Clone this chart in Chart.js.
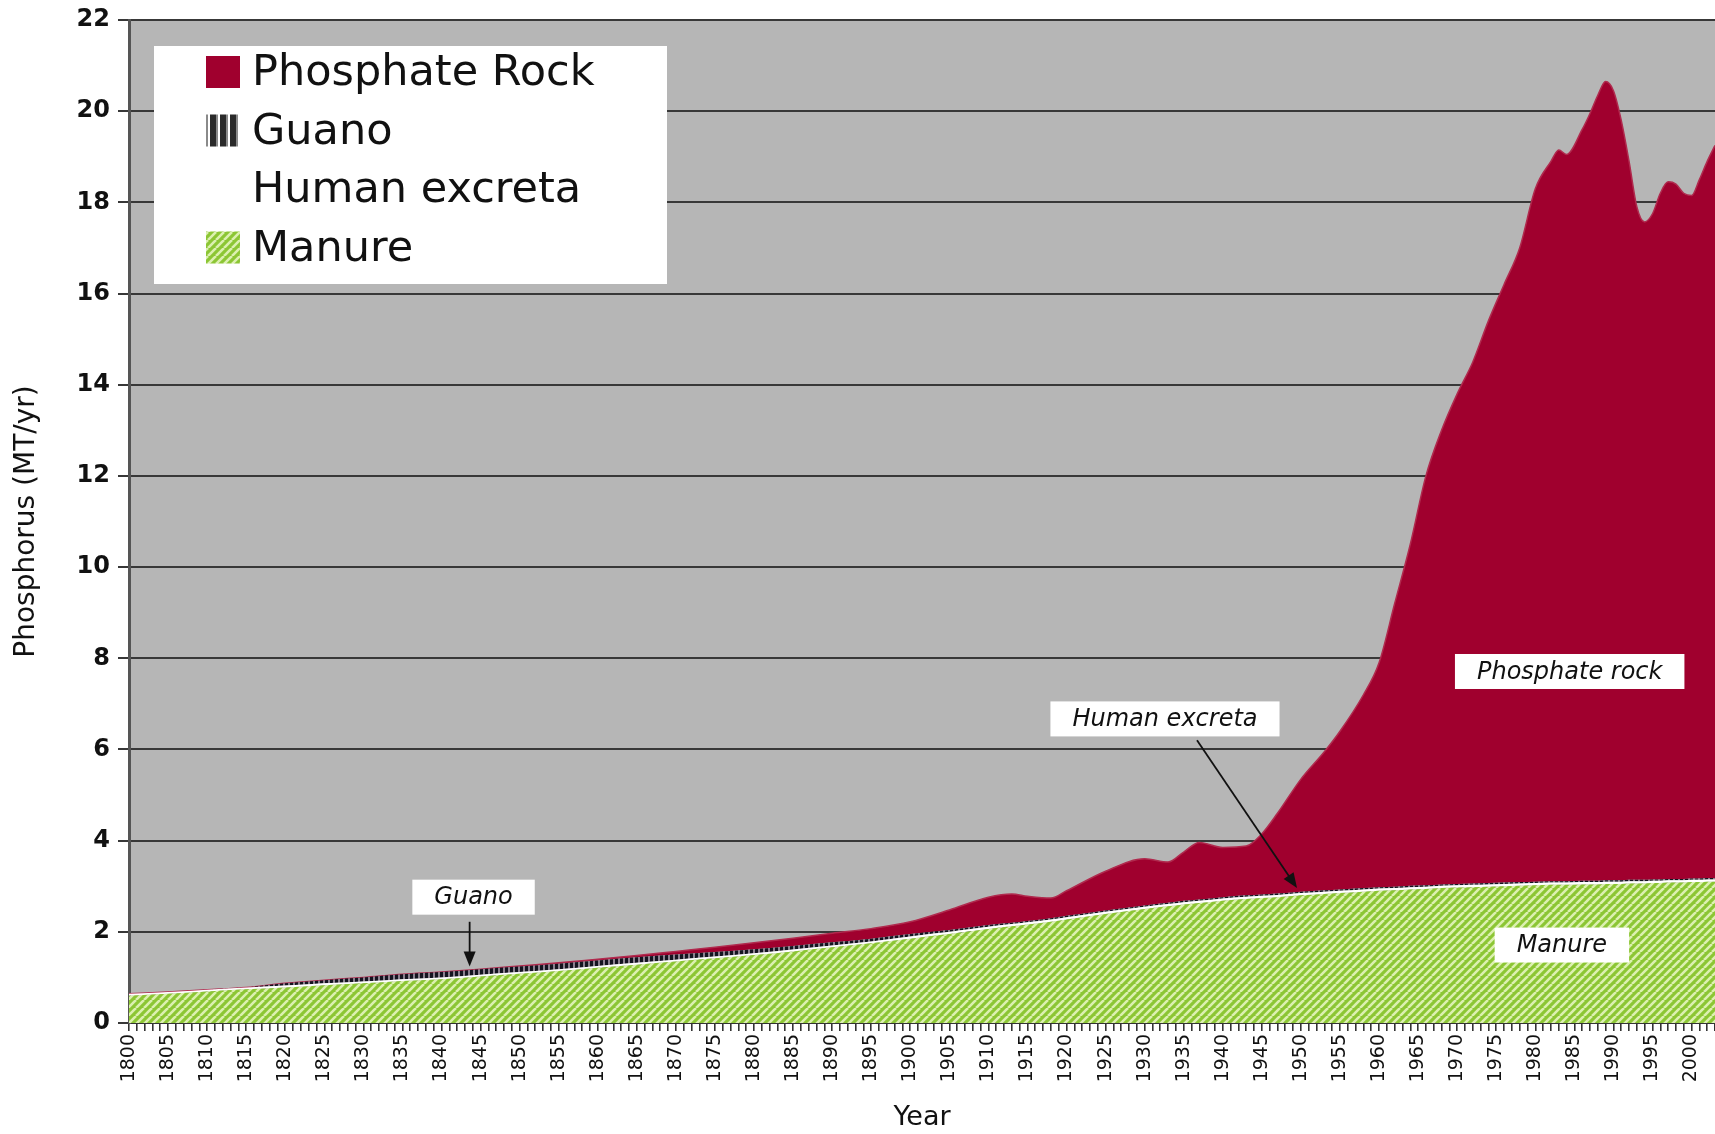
<!DOCTYPE html>
<html lang="en">
<head>
  <meta charset="UTF-8">
  <title>Phosphorus sources 1800-2003</title>
  <script src="https://cdn.jsdelivr.net/npm/chart.js"></script>
  <style>
    html, body { margin: 0; padding: 0; background: #fff; }
  </style>
</head>
<body>
  <canvas id="myChart" width="1715" height="1134"></canvas>

  <script>
    // values (MT/yr), each series is its own layer of the stack
    let years = [1800, 1805, 1810, 1815, 1820, 1825, 1830, 1835, 1840, 1845, 1850, 1855, 1860, 1865, 1870,
      1875, 1880, 1885, 1890, 1895, 1900, 1905, 1910, 1913, 1915, 1918, 1920, 1925, 1930, 1933, 1935,
      1937, 1940, 1943, 1945, 1947, 1950, 1953, 1955, 1958, 1960, 1962, 1964, 1966, 1968, 1970, 1972,
      1974, 1976, 1978, 1980, 1982, 1983, 1984, 1986, 1987, 1988, 1989, 1990, 1991, 1992, 1993, 1994,
      1995, 1996, 1997, 1998, 1999, 2000, 2001, 2002, 2003];

    let manure = [0.60, 0.64, 0.69, 0.74, 0.78, 0.83, 0.87, 0.92, 0.96, 1.02, 1.08, 1.14, 1.21, 1.28, 1.35,
      1.42, 1.49, 1.57, 1.66, 1.75, 1.85, 1.95, 2.06, 2.12, 2.16, 2.22, 2.27, 2.39, 2.50, 2.56, 2.60,
      2.63, 2.68, 2.72, 2.74, 2.76, 2.80, 2.83, 2.85, 2.88, 2.90, 2.91, 2.93, 2.94, 2.96, 2.97, 2.98,
      2.99, 3.00, 3.01, 3.02, 3.03, 3.03, 3.03, 3.04, 3.04, 3.04, 3.05, 3.05, 3.05, 3.06, 3.06, 3.06,
      3.07, 3.07, 3.08, 3.08, 3.08, 3.09, 3.09, 3.10, 3.10];

    let humanExcreta = [0.04, 0.04, 0.04, 0.04, 0.04, 0.04, 0.04, 0.04, 0.04, 0.04, 0.04, 0.04, 0.04, 0.04, 0.04,
      0.04, 0.04, 0.04, 0.04, 0.04, 0.05, 0.05, 0.05, 0.05, 0.05, 0.05, 0.05, 0.05, 0.05, 0.05, 0.05,
      0.05, 0.05, 0.05, 0.05, 0.05, 0.05, 0.05, 0.05, 0.05, 0.05, 0.05, 0.05, 0.05, 0.05, 0.05, 0.05,
      0.05, 0.05, 0.05, 0.05, 0.05, 0.05, 0.05, 0.05, 0.05, 0.05, 0.05, 0.05, 0.05, 0.05, 0.05, 0.05,
      0.05, 0.05, 0.05, 0.05, 0.05, 0.05, 0.05, 0.05, 0.05];

    let guano = [0, 0, 0, 0, 0.05, 0.07, 0.09, 0.11, 0.12, 0.12, 0.12, 0.12, 0.12, 0.12, 0.11,
      0.10, 0.09, 0.08, 0.07, 0.06, 0.05, 0.04, 0.04, 0.03, 0.03, 0.03, 0.03, 0.03, 0.03, 0.03, 0.03,
      0.03, 0.03, 0.03, 0.03, 0.03, 0.03, 0.03, 0.03, 0.03, 0.03, 0.03, 0.03, 0.03, 0.03, 0.03, 0.03,
      0.03, 0.03, 0.03, 0.03, 0.03, 0.03, 0.03, 0.03, 0.03, 0.03, 0.03, 0.03, 0.03, 0.03, 0.03, 0.03,
      0.03, 0.03, 0.03, 0.03, 0.03, 0.03, 0.03, 0.03, 0.03];

    let phosphateRock = [0, 0, 0, 0, 0, 0, 0, 0, 0, 0, 0.01, 0.02, 0.03, 0.04, 0.07,
      0.10, 0.14, 0.17, 0.20, 0.22, 0.27, 0.44, 0.61, 0.63, 0.54, 0.44, 0.55, 0.86, 1.02, 0.89, 1.07,
      1.25, 1.09, 1.08, 1.33, 1.76, 2.47, 3.04, 3.47, 4.24, 4.92, 6.21, 7.49, 8.98, 9.96, 10.75, 11.44,
      12.33, 13.12, 13.91, 15.20, 15.79, 16.04, 15.94, 16.48, 16.83, 17.23, 17.52, 17.32, 16.67, 15.76, 14.76, 14.43,
      14.60, 15.05, 15.29, 15.24, 15.04, 14.98, 15.33, 15.72, 16.07];

    let legendLabels = ['Phosphate Rock', 'Guano', 'Human excreta', 'Manure'];

    // call-out boxes on the plot: text, year, value
    let noteText = ['Guano', 'Human excreta', 'Phosphate rock', 'Manure'];
    let noteYear = [1844.1, 1932.6, 1984.4, 1983.4];
    let noteValue = [2.76, 6.67, 7.71, 1.71];
    // arrows: from (year, value) to (year, value)
    let arrowFrom = [[1843.6, 2.22], [1936.7, 6.2]];
    let arrowTo = [[1843.6, 1.24], [1949.5, 2.96]];

    function toPoints(values) {
      return values.map((v, i) => ({ x: years[i], y: v }));
    }

    function manurePattern() {
      let c = document.createElement('canvas');
      c.width = 8; c.height = 8;
      let g = c.getContext('2d');
      g.fillStyle = '#8cc634';
      g.fillRect(0, 0, 8, 8);
      g.strokeStyle = '#dcf0b0';
      g.lineWidth = 2.6;
      g.beginPath();
      for (let k = -8; k <= 8; k += 8) {
        g.moveTo(k, 8);
        g.lineTo(k + 8, 0);
      }
      g.stroke();
      return g.createPattern(c, 'repeat');
    }

    function guanoPattern() {
      let c = document.createElement('canvas');
      c.width = 5; c.height = 4;
      let g = c.getContext('2d');
      g.fillStyle = '#8c8290';
      g.fillRect(0, 0, 5, 4);
      g.fillStyle = '#141420';
      g.fillRect(0, 0, 3, 4);
      return g.createPattern(c, 'repeat');
    }

    function legendGuanoSwatch() {
      let c = document.createElement('canvas');
      c.width = 10; c.height = 4;
      let g = c.getContext('2d');
      g.fillStyle = '#ffffff';
      g.fillRect(0, 0, 10, 4);
      g.fillStyle = '#2a2a2a';
      g.fillRect(0, 0, 6, 4);
      g.fillStyle = '#8a8a8a';
      g.fillRect(6, 0, 2, 4);
      return g.createPattern(c, 'repeat');
    }

    let greenFill = manurePattern();
    let guanoFill = guanoPattern();
    let guanoSwatch = legendGuanoSwatch();
    let rockColor = '#a0002e';

    function drawArrow(ctx, x1, y1, x2, y2) {
      let ang = Math.atan2(y2 - y1, x2 - x1);
      ctx.beginPath();
      ctx.moveTo(x1, y1);
      ctx.lineTo(x2 - 10 * Math.cos(ang), y2 - 10 * Math.sin(ang));
      ctx.stroke();
      ctx.beginPath();
      ctx.moveTo(x2, y2);
      ctx.lineTo(x2 - 15 * Math.cos(ang) + 6 * Math.sin(ang), y2 - 15 * Math.sin(ang) - 6 * Math.cos(ang));
      ctx.lineTo(x2 - 15 * Math.cos(ang) - 6 * Math.sin(ang), y2 - 15 * Math.sin(ang) + 6 * Math.cos(ang));
      ctx.closePath();
      ctx.fill();
    }

    let plotBackground = {
      id: 'plotBackground',
      beforeDraw(chart) {
        let { ctx, chartArea: a } = chart;
        ctx.save();
        ctx.fillStyle = '#b6b6b6';
        ctx.fillRect(a.left, a.top, a.right - a.left, a.bottom - a.top);
        ctx.restore();
      }
    };

    let notes = {
      id: 'notes',
      afterDatasetsDraw(chart) {
        let ctx = chart.ctx;
        let xs = chart.scales.x, ys = chart.scales.y;
        ctx.save();
        ctx.strokeStyle = '#111';
        ctx.fillStyle = '#111';
        ctx.lineWidth = 1.8;
        for (let i = 0; i < arrowFrom.length; i++) {
          drawArrow(ctx,
            xs.getPixelForValue(arrowFrom[i][0]), ys.getPixelForValue(arrowFrom[i][1]),
            xs.getPixelForValue(arrowTo[i][0]), ys.getPixelForValue(arrowTo[i][1]));
        }
        ctx.font = 'italic 24px "DejaVu Sans"';
        ctx.textAlign = 'center';
        ctx.textBaseline = 'middle';
        for (let i = 0; i < noteText.length; i++) {
          let cx = xs.getPixelForValue(noteYear[i]);
          let cy = ys.getPixelForValue(noteValue[i]);
          let w = ctx.measureText(noteText[i]).width + 44;
          let h = 35;
          ctx.fillStyle = '#fff';
          ctx.fillRect(cx - w / 2, cy - h / 2, w, h);
          ctx.fillStyle = '#111';
          ctx.fillText(noteText[i], cx, cy + 1);
        }
        ctx.restore();
      }
    };

    let boxLegend = {
      id: 'boxLegend',
      afterDraw(chart) {
        let ctx = chart.ctx;
        ctx.save();
        ctx.fillStyle = '#fff';
        ctx.fillRect(154, 46, 513, 238);
        let swatches = [rockColor, guanoSwatch, null, greenFill];
        ctx.font = '43px "DejaVu Sans"';
        ctx.textBaseline = 'middle';
        for (let i = 0; i < legendLabels.length; i++) {
          let cy = 72 + i * 58.5;
          if (swatches[i]) {
            ctx.fillStyle = swatches[i];
            ctx.fillRect(206, cy - 16, 34, 32);
          }
          ctx.fillStyle = '#111';
          ctx.fillText(legendLabels[i], 252, cy + 2);
        }
        ctx.restore();
      }
    };

    let ctx = document.getElementById('myChart').getContext('2d');
    let chart = new Chart(ctx, {
      type: 'line',
      data: {
        datasets: [
          { label: 'Manure', data: toPoints(manure), backgroundColor: greenFill, fill: 'origin', borderWidth: 0 },
          { label: 'Human excreta', data: toPoints(humanExcreta), backgroundColor: '#ffffff', fill: '-1', borderWidth: 0 },
          { label: 'Guano', data: toPoints(guano), backgroundColor: guanoFill, fill: '-1', borderWidth: 0 },
          { label: 'Phosphate Rock', data: toPoints(phosphateRock), backgroundColor: rockColor, fill: '-1',
            borderColor: '#b02a4e', borderWidth: 1.5 }
        ]
      },
      options: {
        responsive: false,
        animation: false,
        layout: { padding: { top: 20, right: 0, bottom: 0, left: 0 } },
        elements: { point: { radius: 0 }, line: { cubicInterpolationMode: 'monotone' } },
        plugins: { legend: { display: false }, tooltip: { enabled: false } },
        scales: {
          x: {
            type: 'linear',
            min: 1800,
            max: 2003,
            grid: { drawOnChartArea: false, drawTicks: true, tickLength: 8, color: '#333', lineWidth: 1.6 },
            border: { display: true, color: '#333', width: 2 },
            ticks: {
              stepSize: 1,
              autoSkip: false,
              minRotation: 90,
              maxRotation: 90,
              padding: 3,
              color: '#111',
              font: { family: 'DejaVu Sans', size: 19 },
              callback: (v) => (v % 5 === 0 ? String(v) : '')
            },
            title: {
              display: true,
              text: 'Year',
              color: '#111',
              font: { family: 'DejaVu Sans', size: 27 },
              padding: { top: 0, bottom: 0 }
            },
            afterFit(scale) {
              scale.height = 111;
              scale.paddingLeft = 0;
              scale.paddingRight = 0;
            }
          },
          y: {
            stacked: true,
            min: 0,
            max: 22,
            grid: { color: '#383838', lineWidth: 2, tickLength: 11 },
            border: { display: true, color: '#555', width: 3 },
            ticks: {
              stepSize: 2,
              padding: 8,
              color: '#111',
              font: { family: 'DejaVu Sans', size: 24, weight: 'bold' }
            },
            title: {
              display: true,
              text: 'Phosphorus (MT/yr)',
              color: '#111',
              font: { family: 'DejaVu Sans', size: 28 },
              padding: { top: 10, bottom: 0 }
            },
            afterFit(scale) {
              scale.width = 129;
              scale.paddingTop = 0;
              scale.paddingBottom = 0;
            }
          }
        }
      },
      plugins: [plotBackground, notes, boxLegend]
    });
  </script>
</body>
</html>
